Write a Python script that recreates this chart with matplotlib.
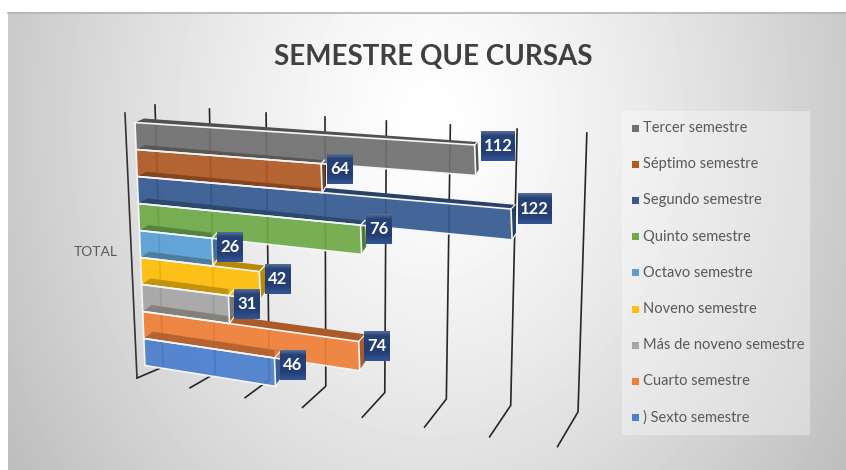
import matplotlib
matplotlib.use('Agg')
import matplotlib.pyplot as plt
from matplotlib.patches import Polygon, Rectangle
import numpy as np

# Series, top row of the chart first
categorias = ['Tercer semestre', 'Séptimo semestre', 'Segundo semestre', 'Quinto semestre',
              'Octavo semestre', 'Noveno semestre', 'Más de noveno semestre', 'Cuarto semestre',
              ') Sexto semestre']
valores = [112, 64, 122, 76, 26, 42, 31, 74, 46]
colores = ['#707070', '#B05A24', '#365A90', '#6FAA48', '#5A9FD6', '#FFBE08', '#A6A6A6', '#EF7F38', '#4C7FCE']
ticks = [0, 20, 40, 60, 80, 100, 120, 140]

plt.rcParams['font.family'] = ['Lato', 'DejaVu Sans']

fig = plt.figure(figsize=(8.46, 4.70), dpi=100)
ax = fig.add_axes([0, 0, 1, 1])


# Fake 3D: value + row -> pixel position
def ancho(v):
    return 2.72 * v / (1 - 0.00092 * v)


def proyecta(v, r):
    x0 = 135 + 1.1 * r
    y0 = 122.5 + 27 * r
    pend = 0.066 + 0.000385 * (y0 - 122)
    return x0 + ancho(v), y0 + pend * ancho(v)


def cara(i):
    val = valores[i]
    return proyecta(0, i), proyecta(val, i), proyecta(val, i + 1), proyecta(0, i + 1)


def fondo_lado(i):
    return 3 + 0.5 * i, -(3 + 0.6 * i), 9, -(4 + 0.35 * i)


# Background
xx, yy = np.meshgrid(np.arange(8, 846), np.arange(12, 470))
d = np.sqrt(((xx - 430) / 480.0) ** 2 + ((yy - 120) / 600.0) ** 2)
fondo = np.clip(255 - 62 * d ** 1.3, 0, 255)
ax.imshow(fondo, extent=(8, 846, 470, 12), cmap='gray', vmin=0, vmax=255, aspect='auto', zorder=0)
ax.plot([8, 846], [12.5, 12.5], color='#b4b4b4', lw=1.2, zorder=1)

# Grid walls
for v in ticks:
    xt = 155 + 2.67 * v / (1 - 0.00096 * v)
    yt = 105 + 0.2 * v
    xb = xt + 8 - 0.12 * v
    yb = 367 + 0.32 * v
    xf = 137 + 2.6 * v / (1 - 0.00096 * v)
    yf = 378 + 0.49 * v
    ax.plot([xt, xb, xf], [yt, yb, yf], color='#262626', lw=1.2, zorder=2)
ax.plot([125, 137], [113, 378], color='#333333', lw=1.2, zorder=2)

# Bars: back faces first, then fronts, then the shaded tops over the row above
for i, col in enumerate(colores):
    a, b, c, e = cara(i)
    dxr, dyr, dxl, dyl = fondo_lado(i)
    oscuro = tuple(0.72 * k for k in matplotlib.colors.to_rgb(col))
    top = [a, b, (b[0] + dxr, b[1] + dyr), (a[0] + dxl, a[1] + dyl)]
    side = [b, c, (c[0] + dxr, c[1] + dyr - 2), (b[0] + dxr, b[1] + dyr)]
    ax.add_patch(Polygon(top, fc=oscuro, ec='none', zorder=3))
    ax.add_patch(Polygon(side, fc=oscuro, ec='none', zorder=3))

for i, col in enumerate(colores):
    ax.add_patch(Polygon(cara(i), fc=col, ec='none', alpha=0.93, zorder=4))

for i, val in enumerate(valores):
    a, b, c, e = cara(i)
    dxr, dyr, dxl, dyl = fondo_lado(i)
    if i > 0:
        m = proyecta(min(val, valores[i - 1]), i)
        ax.add_patch(Polygon([a, m, (m[0], m[1] + dyr), (a[0] + dxl, a[1] + dyl)],
                             fc='black', ec='none', alpha=0.2, zorder=5))
    # white rim of the front face
    ax.add_patch(Polygon([a, b, c, e], closed=True, fc='none', ec='#f4f6f8', lw=1.2, zorder=6))
    ax.plot([c[0], c[0] + dxr], [c[1], c[1] + dyr - 2], color='#f4f6f8', lw=0.9, zorder=6)
    ax.plot([b[0], b[0] + dxr], [b[1], b[1] + dyr], color='#f4f6f8', lw=0.9, zorder=6)

# Data labels
caja = np.linspace(0, 1, 30)
azul = np.array([[0.34, 0.42, 0.58], [0.15, 0.26, 0.47], [0.14, 0.24, 0.45], [0.2, 0.33, 0.58]])
grad = np.stack([np.interp(caja, [0, 0.15, 0.7, 1], azul[:, k]) for k in range(3)], axis=1)[:, None, :]
for i, val in enumerate(valores):
    _, b, c, _ = cara(i)
    cx = (b[0] + c[0]) / 2 + (23 if val >= 100 else 18)
    cy = (b[1] + c[1]) / 2 - (2 + 0.11 * val)
    w = 34 if val >= 100 else 26
    ax.imshow(grad, extent=(cx - w / 2, cx + w / 2, cy + 15, cy - 15), aspect='auto', zorder=7)
    ax.text(cx, cy, str(val), color='white', fontsize=12, fontweight='bold',
            ha='center', va='center', zorder=8)

# Title and axis name
ax.text(433, 57, 'SEMESTRE QUE CURSAS', color='#404040', fontsize=20, fontweight='bold',
        ha='center', va='center')
ax.text(96, 252, 'TOTAL', color='#595959', fontsize=10, ha='center', va='center')

# Legend
ax.add_patch(Rectangle((622, 111), 188, 324, fc='white', ec='none', alpha=0.35, zorder=2))
for i, (nom, col) in enumerate(zip(categorias, colores)):
    yl = 128 + 36.2 * i
    ax.add_patch(Rectangle((632, yl - 3.5), 7, 7, fc=col, ec='none', zorder=3))
    ax.text(643, yl, nom, color='#595959', fontsize=10.5, ha='left', va='center', zorder=3)

ax.set_xlim(0, 846)
ax.set_ylim(470, 0)
ax.axis('off')
fig.savefig('out.png', dpi=100, facecolor='white')
